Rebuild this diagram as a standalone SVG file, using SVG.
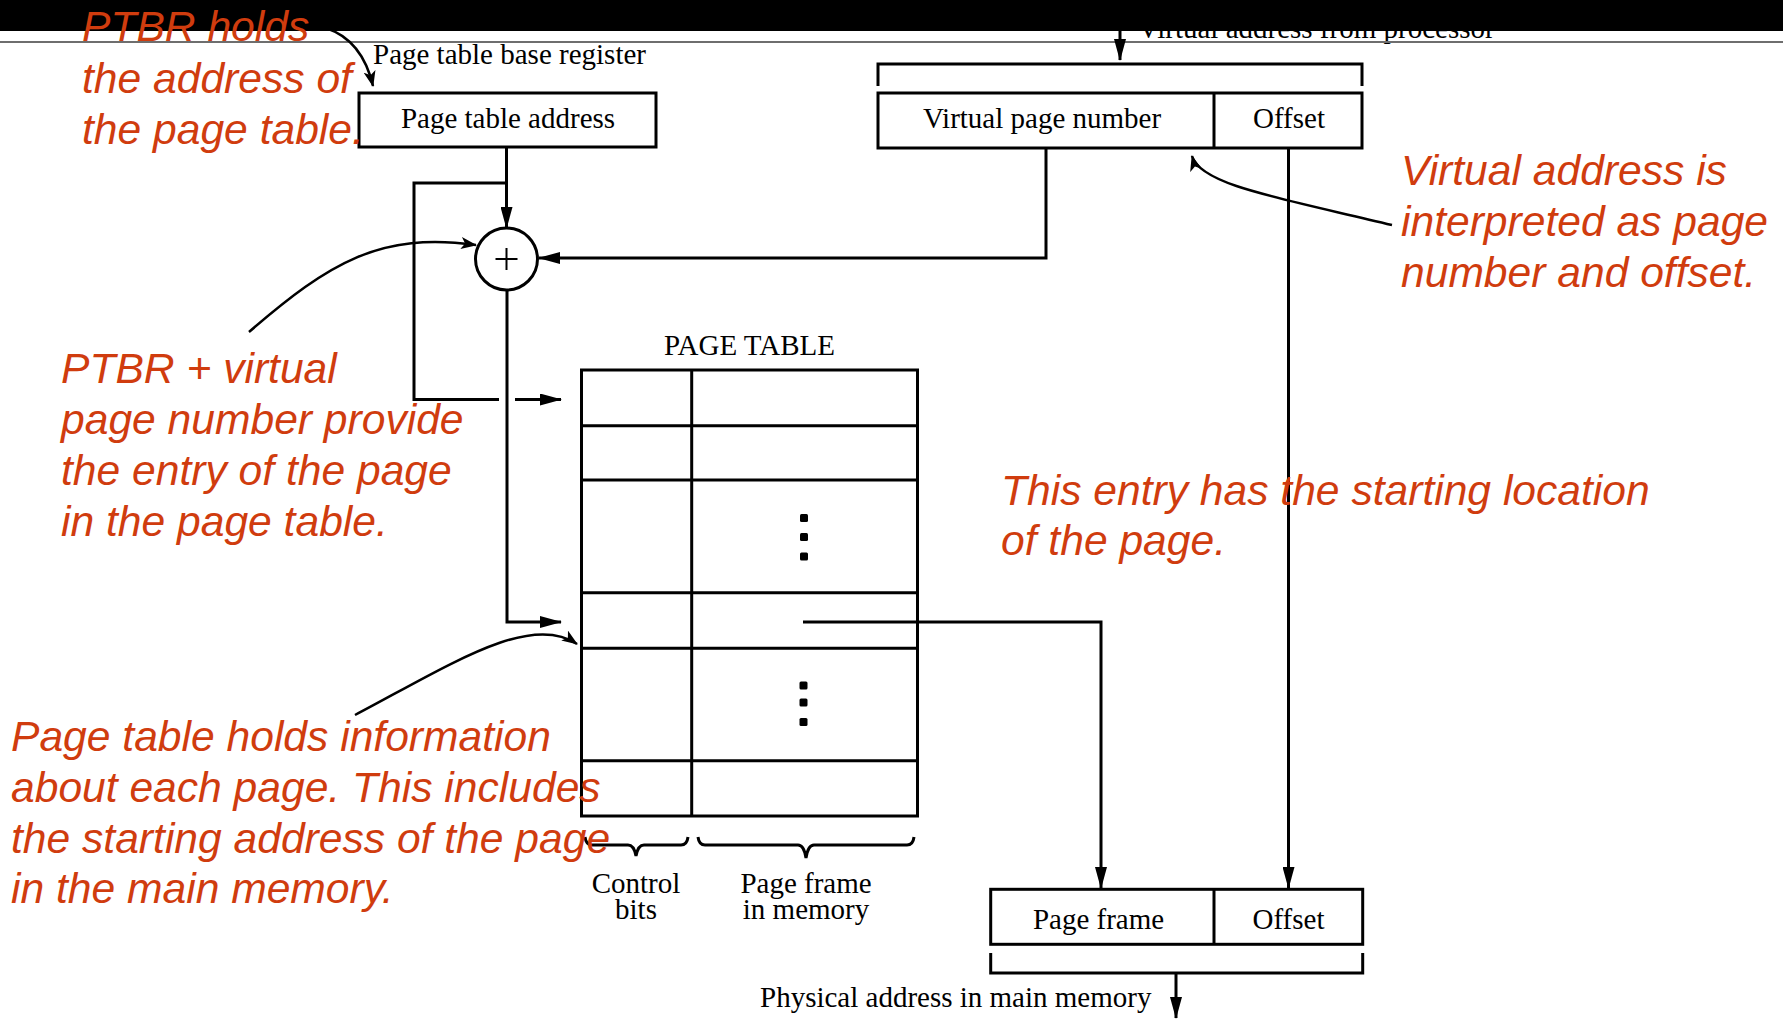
<svg xmlns="http://www.w3.org/2000/svg" width="1783" height="1019" viewBox="0 0 1783 1019">
<style>
.ser{font-family:"Liberation Serif","Times New Roman",serif;font-size:29px;fill:#000}
.mid{text-anchor:middle}
.note{font-family:"Liberation Sans",Arial,sans-serif;font-style:italic;font-size:42.6px;fill:#d03c0e}
.ln{stroke:#000;stroke-width:3;fill:none}
.an{stroke:#000;stroke-width:2.5;fill:none}
.box{fill:#fff;stroke:#000;stroke-width:3}
.dot{fill:#000}
</style>
<defs>
<marker id="ah" viewBox="0 0 22 12" refX="21" refY="6" markerWidth="22" markerHeight="12" markerUnits="userSpaceOnUse" orient="auto">
<path d="M0,0 L22,6 L0,12 z" fill="#000"/>
</marker>
<marker id="sh" viewBox="0 0 16 12" refX="15" refY="6" markerWidth="16" markerHeight="12" markerUnits="userSpaceOnUse" orient="auto">
<path d="M0,0 L16,6 L0,12 L4,6 z" fill="#000"/>
</marker>
</defs>
<rect x="0" y="0" width="1783" height="1019" fill="#fff"/>
<text class="ser" x="1138" y="38">Virtual address from processor</text>
<rect x="0" y="0" width="1783" height="31" fill="#000"/>
<line x1="0" y1="42" x2="1783" y2="42" stroke="#6e6e6e" stroke-width="2"/>

<g id="connectors">
<path class="ln" d="M1120,31 V60" marker-end="url(#ah)"/>
<path class="ln" d="M506.5,147 V228" marker-end="url(#ah)"/>
<path class="ln" d="M506.5,183 H414 V399.5 H499"/>
<path class="ln" d="M515,399.5 H561" marker-end="url(#ah)"/>
<path class="ln" d="M1046,148 V258 H539" marker-end="url(#ah)"/>
<path class="ln" d="M507,290 V622 H561" marker-end="url(#ah)"/>
<path class="ln" d="M803,622 H1101 V888" marker-end="url(#ah)"/>
<path class="ln" d="M1288.5,148 V888" marker-end="url(#ah)"/>
<path class="ln" d="M1176,973 V1018" marker-end="url(#ah)"/>
</g>

<g id="ptbr">
<rect class="box" x="359" y="93" width="297" height="54"/>
<text class="ser mid" x="508" y="128">Page table address</text>
<text class="ser" x="373" y="64">Page table base register</text>
</g>

<g id="virtual-address">
<rect class="box" x="878" y="93" width="484" height="55"/>
<line class="ln" x1="1214" y1="93" x2="1214" y2="148"/>
<text class="ser mid" x="1042" y="128">Virtual page number</text>
<text class="ser mid" x="1289" y="128">Offset</text>
<path class="ln" d="M878,86 V64 H1362 V86"/>
</g>

<g id="adder">
<circle cx="506.5" cy="259" r="31" fill="#fff" stroke="#000" stroke-width="3"/>
<path d="M495.5,259 H517.5 M506.5,248 V270" stroke="#000" stroke-width="2" fill="none"/>
</g>

<g id="page-table">
<text class="ser mid" x="749.5" y="355">PAGE TABLE</text>
<rect x="581.5" y="370" width="336" height="446" fill="none" stroke="#000" stroke-width="3"/>
<path class="ln" d="M581.5,425.7 H917.5 M581.5,480 H917.5 M581.5,592.7 H917.5 M581.5,648.3 H917.5 M581.5,760.7 H917.5 M691.7,370 V816"/>
<rect class="dot" x="800" y="514" width="8" height="8" rx="1.5"/>
<rect class="dot" x="800" y="533" width="8" height="8" rx="1.5"/>
<rect class="dot" x="800" y="552.5" width="8" height="8" rx="1.5"/>
<rect class="dot" x="799.5" y="681.5" width="8" height="8" rx="1.5"/>
<rect class="dot" x="799.5" y="698.5" width="8" height="8" rx="1.5"/>
<rect class="dot" x="799.5" y="718" width="8" height="8" rx="1.5"/>
<path class="ln" d="M585,837 Q586,845 592,845 H628 Q634,845 636,856 Q638,845 644,845 H681 Q687,845 688,837"/>
<path class="ln" d="M698,837 Q699,845 705,845 H798 Q804,845 806,858 Q808,845 814,845 H907 Q913,845 914,837"/>
<text class="ser mid" x="636" y="893">Control</text>
<text class="ser mid" x="636" y="919">bits</text>
<text class="ser mid" x="806" y="893">Page frame</text>
<text class="ser mid" x="806" y="919">in memory</text>
</g>

<g id="physical-address">
<rect class="box" x="990.7" y="889.3" width="372" height="55"/>
<line class="ln" x1="1214" y1="889.3" x2="1214" y2="944.3"/>
<text class="ser mid" x="1098.5" y="929">Page frame</text>
<text class="ser mid" x="1288.5" y="929">Offset</text>
<path class="ln" d="M990.7,953 V973 H1362.7 V953"/>
<text class="ser" x="760" y="1006.5">Physical address in main memory</text>
</g>

<g id="annotations">
<text class="note" x="82" y="41">PTBR holds</text>
<text class="note" x="82" y="92.5">the address of</text>
<text class="note" x="82" y="143.5">the page table.</text>
<path class="an" d="M326,28 C350,36 366,56 373,86" marker-end="url(#sh)"/>

<text class="note" x="1401" y="185">Virtual address is</text>
<text class="note" x="1401" y="236">interpreted as page</text>
<text class="note" x="1401" y="287">number and offset.</text>
<path class="an" d="M1392,225 C1280,198 1200,185 1192,156" marker-end="url(#sh)"/>

<text class="note" x="61" y="383">PTBR + virtual</text>
<text class="note" x="61" y="434">page number provide</text>
<text class="note" x="61" y="485">the entry of the page</text>
<text class="note" x="61" y="536">in the page table.</text>
<path class="an" d="M249,332 C330,262 380,232 476,245" marker-end="url(#sh)"/>

<text class="note" x="1001" y="505">This entry has the starting location</text>
<text class="note" x="1001" y="555">of the page.</text>

<text class="note" x="11" y="751">Page table holds information</text>
<text class="note" x="11" y="802">about each page. This includes</text>
<text class="note" x="11" y="853">the starting address of the page</text>
<text class="note" x="11" y="903">in the main memory.</text>
<path class="an" d="M355,715 C450,665 530,612 577,644" marker-end="url(#sh)"/>
</g>
</svg>
